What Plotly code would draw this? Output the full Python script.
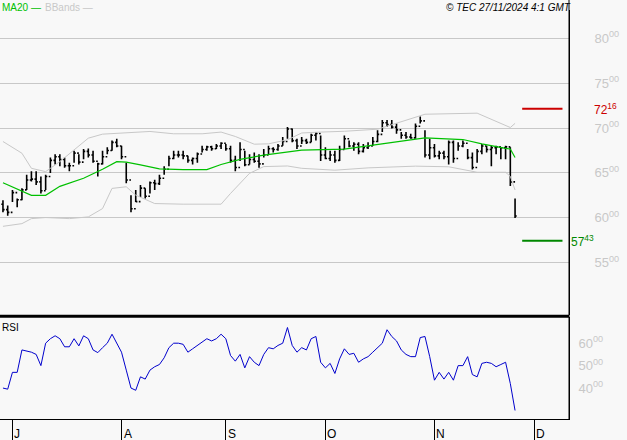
import pandas as pd
import plotly.graph_objects as go

# trading days shown on the chart
dates = pd.bdate_range('2024-06-27', '2024-11-26')

high = [61.94, 61.37, 63.09, 62.13, 63.28, 64.80, 65.18, 65.18, 64.61, 64.80, 66.71, 67.09, 67.09, 66.71, 66.13,
        67.47, 67.09, 67.66, 67.73, 67.47, 66.13, 67.47, 67.85, 68.61, 68.80, 68.04, 66.13, 62.51, 63.09, 63.66,
        63.28, 64.04, 64.23, 64.80, 65.75, 66.90, 67.47, 67.47, 67.47, 66.90, 66.71, 67.28, 68.04, 68.04, 68.04,
        68.23, 68.42, 68.23, 68.04, 66.90, 68.42, 67.47, 67.09, 67.28, 67.09, 67.66, 68.04, 67.85, 68.23, 68.99,
        70.13, 69.94, 68.80, 68.99, 68.80, 69.37, 69.56, 69.18, 67.85, 67.47, 67.47, 68.04, 69.18, 68.61, 68.42,
        68.42, 68.23, 68.42, 68.99, 69.75, 70.90, 70.90, 70.90, 70.52, 69.56, 69.56, 69.37, 70.52, 71.28, 69.75,
        68.80, 68.23, 67.47, 67.47, 68.61, 68.61, 68.42, 68.61, 67.66, 67.28, 67.66, 68.23, 68.04, 68.04, 68.04,
        67.85, 68.04, 67.85, 62.13]
low = [60.61, 60.23, 61.75, 61.18, 61.94, 63.09, 64.04, 63.66, 62.70, 63.09, 64.99, 65.94, 65.75, 65.56, 65.18,
       66.13, 65.94, 66.52, 66.71, 66.13, 64.61, 65.94, 67.09, 67.47, 67.85, 66.52, 63.85, 60.61, 61.75, 62.32,
       62.13, 62.70, 63.09, 63.66, 64.80, 65.75, 66.52, 66.71, 66.52, 66.13, 65.94, 66.13, 67.28, 67.47, 67.47,
       67.66, 67.66, 67.47, 66.13, 65.18, 66.32, 65.75, 65.94, 66.13, 65.56, 66.71, 67.09, 67.28, 67.47, 68.04,
       68.80, 68.42, 67.66, 68.23, 68.23, 68.42, 68.61, 66.32, 66.52, 66.32, 66.13, 66.32, 67.66, 67.85, 67.47,
       67.09, 67.28, 67.66, 68.04, 68.42, 69.56, 70.13, 69.94, 69.37, 68.80, 68.80, 68.80, 68.80, 70.52, 66.71,
       66.52, 66.71, 66.52, 66.52, 65.94, 66.13, 67.47, 67.85, 66.52, 65.37, 66.13, 67.09, 67.28, 65.75, 67.09,
       66.52, 66.52, 63.54, 59.96]
close = [60.90, 60.60, 62.80, 62.00, 63.10, 64.20, 64.30, 64.00, 63.00, 64.60, 66.40, 66.80, 66.50, 65.80, 65.80,
         67.20, 66.20, 67.40, 67.00, 66.30, 66.00, 66.80, 67.50, 68.40, 68.00, 66.80, 64.20, 61.00, 61.80, 63.30,
         62.40, 63.90, 63.80, 64.40, 65.40, 66.60, 67.00, 67.00, 66.90, 66.40, 66.60, 67.10, 67.60, 67.90, 67.70,
         68.00, 68.30, 67.70, 66.40, 65.60, 67.60, 65.90, 66.50, 66.30, 66.00, 67.00, 67.70, 67.60, 68.00, 68.50,
         69.90, 68.60, 68.00, 68.60, 68.40, 69.20, 69.40, 67.00, 66.60, 67.00, 66.40, 67.60, 68.80, 68.00, 68.20,
         67.40, 67.80, 68.00, 68.50, 69.30, 70.60, 70.40, 70.10, 69.80, 69.20, 69.00, 68.90, 70.20, 70.80, 67.00,
         67.80, 66.90, 67.20, 66.80, 68.40, 66.60, 68.00, 68.30, 66.70, 65.60, 67.40, 68.00, 67.60, 67.80, 67.90,
         67.80, 67.90, 64.00, 60.20]
first_open = 61.50

rsi = [40, 39.5, 47, 47, 57, 56.5, 56, 55, 50, 60, 62, 63.3, 62, 58.4, 58.4, 62, 58.8, 63.3, 62, 57, 55.8, 58, 60,
       64, 60, 56, 48, 40, 39, 45, 44, 48, 49.5, 50.5, 53.5, 58, 60, 60, 59.5, 56, 57.5, 59, 60.5, 62, 61, 62, 64,
       62, 54.5, 52, 55, 49, 54, 51.5, 50, 55, 58, 57.5, 59, 60, 67, 59, 56, 58, 57, 62, 63, 51.5, 49, 51, 46.5, 53,
       57.5, 55, 55.5, 51.5, 53, 54, 56, 58, 60, 66, 63, 61, 57, 55, 54, 54, 62.5, 63, 54, 43.5, 47, 44, 47, 43.5,
       50, 50, 54, 46, 45, 51, 51.5, 51, 49.5, 50.5, 51.5, 42, 30]

ma_idx = [0, 6, 9, 12, 17, 21, 24, 26, 29, 33, 38, 43, 46, 50, 55, 60, 63, 72, 80, 84, 89, 97, 101, 106, 107, 108]
ma20 = [63.90, 62.50, 62.50, 63.50, 64.40, 65.40, 66.25, 66.20, 65.90, 65.45, 65.37, 65.37, 65.94, 66.50, 66.97,
        67.28, 67.54, 67.66, 68.23, 68.50, 68.91, 68.72, 68.23, 67.73, 67.66, 66.71]
up_idx = [0, 4, 6, 9, 12, 15, 18, 21, 26, 31, 36, 42, 46, 49, 53, 56, 60, 63, 67, 72, 79, 84, 89, 100, 104, 107, 108]
bb_up = [68.50, 67.19, 65.51, 65.14, 66.26, 67.57, 68.87, 69.32, 69.43, 69.62, 69.36, 69.36, 69.55, 69.06, 68.20,
         68.24, 68.69, 69.45, 69.55, 69.64, 69.87, 70.71, 71.54, 71.66, 70.71, 70.06, 70.52]
lo_idx = [0, 4, 6, 9, 14, 18, 21, 23, 26, 28, 32, 38, 46, 48, 52, 55, 60, 63, 70, 77, 87, 94, 100, 106, 107, 108]
bb_lo = [59.04, 59.34, 59.90, 60.02, 59.90, 60.09, 61.02, 63.27, 63.45, 62.52, 61.58, 61.51, 61.51, 62.71, 64.95,
         65.70, 65.77, 65.51, 65.30, 65.56, 65.75, 65.68, 65.07, 65.07, 64.61, 63.09]

resistance = 72.16
support = 57.43
price_ticks = [55, 60, 65, 70, 75, 80]
rsi_ticks = [40, 50, 60]
months = ['2024-07-01', '2024-08-01', '2024-09-02', '2024-10-01', '2024-11-01', '2024-12-02']
month_labels = ['J', 'A', 'S', 'O', 'N', 'D']

opens = [first_open] + close[:-1]
grey = '#c8c8c8'

fig = go.Figure()
fig.add_trace(go.Scatter(x=dates[up_idx], y=bb_up, mode='lines', line=dict(color=grey, width=1), yaxis='y'))
fig.add_trace(go.Scatter(x=dates[lo_idx], y=bb_lo, mode='lines', line=dict(color=grey, width=1), yaxis='y'))
fig.add_trace(go.Ohlc(x=dates, open=opens, high=high, low=low, close=close, yaxis='y', tickwidth=0.35,
                      increasing=dict(line=dict(color='black', width=1.6)),
                      decreasing=dict(line=dict(color='black', width=1.6))))
fig.add_trace(go.Scatter(x=dates[ma_idx], y=ma20, mode='lines', line=dict(color='#00c000', width=1.2), yaxis='y'))
lvl_x = [pd.Timestamp('2024-11-27 12:00'), pd.Timestamp('2024-12-10')]
fig.add_trace(go.Scatter(x=lvl_x, y=[resistance] * 2, mode='lines', line=dict(color='#cc0000', width=2), yaxis='y'))
fig.add_trace(go.Scatter(x=lvl_x, y=[support] * 2, mode='lines', line=dict(color='#008800', width=2), yaxis='y'))
fig.add_trace(go.Scatter(x=dates, y=rsi, mode='lines', line=dict(color='#0000cc', width=1), yaxis='y2'))

xr = ['2024-06-26 09:00', '2024-12-11 09:00']
fig.update_layout(
    width=627, height=440, showlegend=False,
    margin=dict(l=0, r=58, t=0, b=21, autoexpand=False),
    paper_bgcolor='#f8f8f8', plot_bgcolor='#f8f8f8',
    font=dict(family='Arial, Liberation Sans', size=11, color='black'),
    xaxis=dict(range=xr, anchor='y2', automargin=False, rangeslider=dict(visible=False),
               rangebreaks=[dict(bounds=['sat', 'mon'])],
               tickvals=months, ticktext=[''] * 6, ticks='outside', ticklen=21, tickcolor='black', tickwidth=1,
               showgrid=False, zeroline=False, showline=True, linecolor='black', linewidth=1),
    yaxis=dict(domain=[0.248, 0.976], range=[49.14, 83.16], side='right', anchor='x', automargin=False,
               showline=True, linecolor='black', linewidth=1, tickvals=price_ticks,
               ticktext=[f'{v}<sup>00</sup>' for v in price_ticks], ticks='', ticklabelstandoff=22,
               tickfont=dict(color=grey, size=13), gridcolor=grey, gridwidth=1, zeroline=False),
    yaxis2=dict(domain=[0, 0.243], range=[26.2, 71.6], side='right', anchor='x', automargin=False,
                showline=True, linecolor='black', linewidth=1, tickvals=rsi_ticks,
                ticktext=[f'{v}<sup>00</sup>' for v in rsi_ticks], ticks='',
                ticklabelstandoff=6, tickfont=dict(color=grey, size=13), showgrid=False, zeroline=False),
)
# panel borders
fig.add_shape(type='line', xref='paper', yref='paper', x0=0, x1=1, y0=0.245, y1=0.245,
              line=dict(color='black', width=3))
fig.add_shape(type='line', xref='paper', yref='paper', x0=1, x1=1, y0=0, y1=1,
              line=dict(color='black', width=1))

for m, lab in zip(months, month_labels):
    fig.add_annotation(x=m, xref='x', y=0, yref='paper', yshift=-6, text=lab, showarrow=False,
                       xanchor='left', yanchor='top', font=dict(size=12))

fig.add_annotation(x=0, xref='paper', y=0.236, yref='paper', text='RSI', showarrow=False,
                   xanchor='left', yanchor='top', font=dict(size=10))
fig.add_annotation(x=0, xref='paper', y=1.0, yref='paper', text='MA20 —', showarrow=False,
                   xanchor='left', yanchor='top', font=dict(size=10, color='#00c000'))
fig.add_annotation(x=0.075, xref='paper', y=1.0, yref='paper', text='BBands —', showarrow=False,
                   xanchor='left', yanchor='top', font=dict(size=10, color=grey))
fig.add_annotation(x=1.007, xref='paper', y=1.0, yref='paper', text='<i>© TEC 27/11/2024 4:1 GMT</i>',
                   showarrow=False, xanchor='right', yanchor='top', font=dict(size=10))
fig.add_annotation(x=1.04, xref='paper', y=resistance, yref='y', text='72<sup>16</sup>', showarrow=False,
                   xanchor='left', font=dict(size=12, color='#cc0000'))
fig.add_annotation(x=1.0, xref='paper', y=support, yref='y', text='57<sup>43</sup>', showarrow=False,
                   xanchor='left', font=dict(size=12, color='#008800'))

fig.write_html("out.html", config={'displayModeBar': False},
               post_script="document.body.style.margin='0px';")
